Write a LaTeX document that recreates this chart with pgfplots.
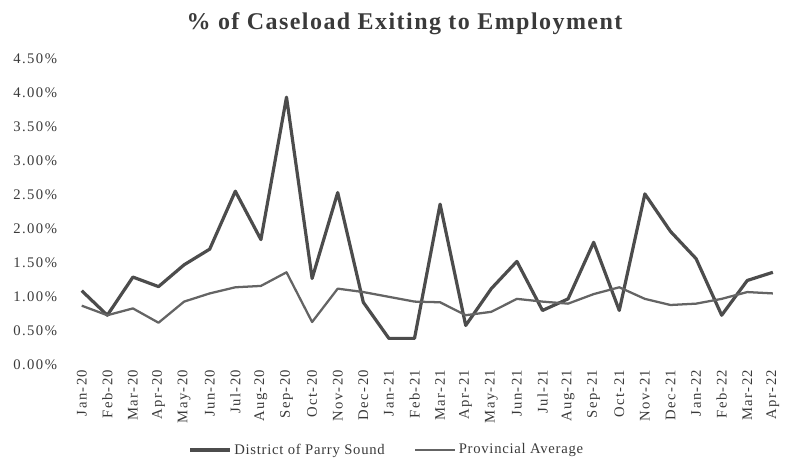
\documentclass[border=0pt]{standalone}
\usepackage{pgfplots}
\pgfplotsset{compat=1.18}
\usepackage{fontspec}
\setmainfont{Liberation Serif}[LetterSpace=5]

\definecolor{txt}{HTML}{3A3A3A}
\definecolor{district}{HTML}{4C4C4C}
\definecolor{province}{HTML}{646464}

\begin{document}
\begin{tikzpicture}
% fixed page frame around the plot area
\path[use as bounding box] (-61.3pt,-77.25pt) rectangle (533.5pt,273.75pt);
\begin{axis}[
  scale only axis,
  width=518.4pt, height=230pt,
  xmin=0, xmax=27, ymin=0, ymax=4.5,
  axis line style={draw=none},
  tick style={draw=none},
  xtick={0,...,27},
  xticklabels={Jan-20,Feb-20,Mar-20,Apr-20,May-20,Jun-20,Jul-20,Aug-20,Sep-20,Oct-20,Nov-20,Dec-20,
               Jan-21,Feb-21,Mar-21,Apr-21,May-21,Jun-21,Jul-21,Aug-21,Sep-21,Oct-21,Nov-21,Dec-21,
               Jan-22,Feb-22,Mar-22,Apr-22},
  xticklabel style={rotate=90, anchor=east, text=txt,
    font=\fontsize{11}{13}\selectfont\addfontfeature{LetterSpace=10}},
  ytick={0,0.5,...,4.5},
  yticklabel={\pgfmathprintnumber[fixed,fixed zerofill,precision=2]{\tick}\%},
  yticklabel style={text=txt, xshift=-15pt,
    font=\fontsize{11}{13}\selectfont\addfontfeature{LetterSpace=10}},
  /pgf/number format/assume math mode=true,
  title={\textbf{\% of Caseload Exiting to Employment}},
  title style={font=\fontsize{18}{21}\selectfont\addfontfeature{LetterSpace=6}, text=txt,
    at={(0.468,1)}, yshift=8pt},
  clip=false,
  legend columns=2,
  legend style={draw=none, fill=none, at={(0.442,-0.277)}, anchor=center,
    font=\fontsize{11}{13}\selectfont, text=txt,
    /tikz/every even column/.append style={column sep=20pt}},
  legend image code/.code={\draw[#1] (0cm,0cm) -- (1.05cm,0cm);},
]
\addplot[district, line width=2.4pt, line join=round] coordinates {
  (0,1.09) (1,0.73) (2,1.29) (3,1.15) (4,1.47) (5,1.70) (6,2.55) (7,1.84)
  (8,3.93) (9,1.27) (10,2.53) (11,0.92) (12,0.39) (13,0.39) (14,2.36) (15,0.58)
  (16,1.12) (17,1.52) (18,0.80) (19,0.97) (20,1.80) (21,0.80) (22,2.51) (23,1.96)
  (24,1.56) (25,0.73) (26,1.24) (27,1.36)
};
\addlegendentry{District of Parry Sound}
\addplot[province, line width=1.7pt, line join=round] coordinates {
  (0,0.87) (1,0.73) (2,0.83) (3,0.62) (4,0.93) (5,1.05) (6,1.14) (7,1.16)
  (8,1.36) (9,0.63) (10,1.12) (11,1.07) (12,1.00) (13,0.93) (14,0.92) (15,0.73)
  (16,0.78) (17,0.97) (18,0.93) (19,0.90) (20,1.04) (21,1.14) (22,0.97) (23,0.88)
  (24,0.90) (25,0.97) (26,1.07) (27,1.05)
};
\addlegendentry{Provincial Average}
\end{axis}
\end{tikzpicture}
\end{document}
